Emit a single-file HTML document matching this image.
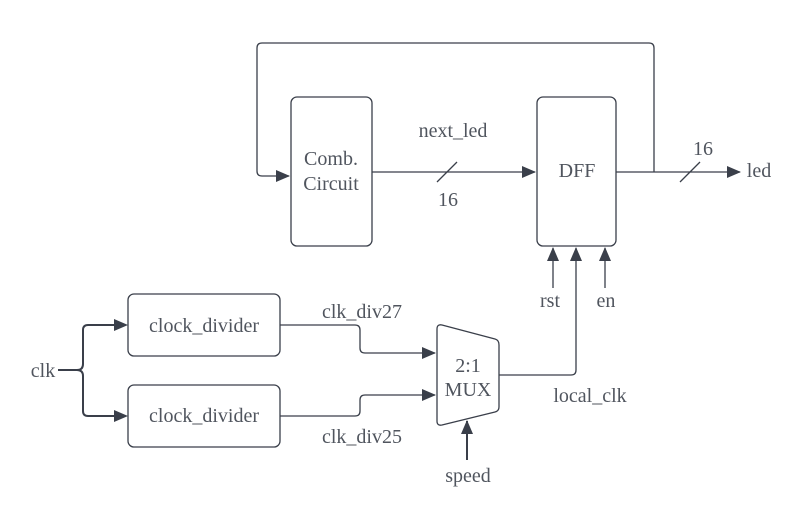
<!DOCTYPE html>
<html><head><style>html,body{margin:0;padding:0;background:#fff}</style></head><body>
<svg width="797" height="513" viewBox="0 0 797 513" xmlns="http://www.w3.org/2000/svg">
<defs>
<marker id="b" markerWidth="14" markerHeight="12" refX="13" refY="6" orient="auto" markerUnits="userSpaceOnUse"><path d="M0,0 L14,6 L0,12 z" fill="#3a3f4a"/></marker></defs>
<g fill="none" stroke="#3a3f4a" stroke-width="1.3">
<rect x="291" y="97" width="81" height="149" rx="6"/>
<rect x="537" y="97" width="79" height="149" rx="6"/>
<rect x="128" y="294" width="152" height="62" rx="6"/>
<rect x="128" y="385" width="152" height="62" rx="6"/>
<path d="M437,329 Q437,324 442,325 L495,339 Q499,340 499,345 L499,407 Q499,411 495,412 L442,425 Q437,426 437,421 Z"/>
<path d="M654,172 L654,48 Q654,43 649,43 L262,43 Q257,43 257,48 L257,171 Q257,176 262,176 L289,176" marker-end="url(#b)"/>
<path d="M372,172 L535,172" marker-end="url(#b)"/>
<path d="M616,172 L740,172" marker-end="url(#b)"/>
<path d="M437,182 L457,162 M680,182 L700,162"/>
<path d="M280,325 L355,325 Q360,325 360,330 L360,348 Q360,353 365,353 L435,353" marker-end="url(#b)"/>
<path d="M280,416 L355,416 Q360,416 360,411 L360,400 Q360,395 365,395 L435,395" marker-end="url(#b)"/>
<path d="M499,375 L571,375 Q576,375 576,370 L576,248" marker-end="url(#b)"/>
<path d="M605,288 L605,248" marker-end="url(#b)"/>
<path d="M553,288 L553,248" marker-end="url(#b)"/>
</g>
<g fill="none" stroke="#3a3f4a" stroke-width="2">
<path d="M58,370 L77,370 M83,330 Q83,325 88,325 L116,325 M83,330 L83,364 Q83,370 77,370 Q83,370 83,376 L83,411 Q83,416 88,416 L116,416" />
<path d="M467,460 L467,421" marker-end="url(#b)"/>
</g>
<polygon points="114,319 128,325 114,331" fill="#3a3f4a"/>
<polygon points="114,410 128,416 114,422" fill="#3a3f4a"/>
<g font-family="Liberation Serif, serif" font-size="20" fill="#50555e" text-anchor="middle">
<text x="331" y="165">Comb.</text><text x="331" y="190">Circuit</text>
<text x="577" y="177">DFF</text>
<text x="453" y="137">next_led</text>
<text x="448" y="206">16</text>
<text x="703" y="155">16</text>
<text x="759" y="177">led</text>
<text x="204" y="332">clock_divider</text>
<text x="204" y="422">clock_divider</text>
<text x="362" y="318">clk_div27</text>
<text x="362" y="443">clk_div25</text>
<text x="43" y="377">clk</text>
<text x="468" y="372">2:1</text>
<text x="468" y="396">MUX</text>
<text x="590" y="402">local_clk</text>
<text x="550" y="307">rst</text>
<text x="606" y="307">en</text>
<text x="468" y="482">speed</text>
</g>
</svg>
</body></html>
